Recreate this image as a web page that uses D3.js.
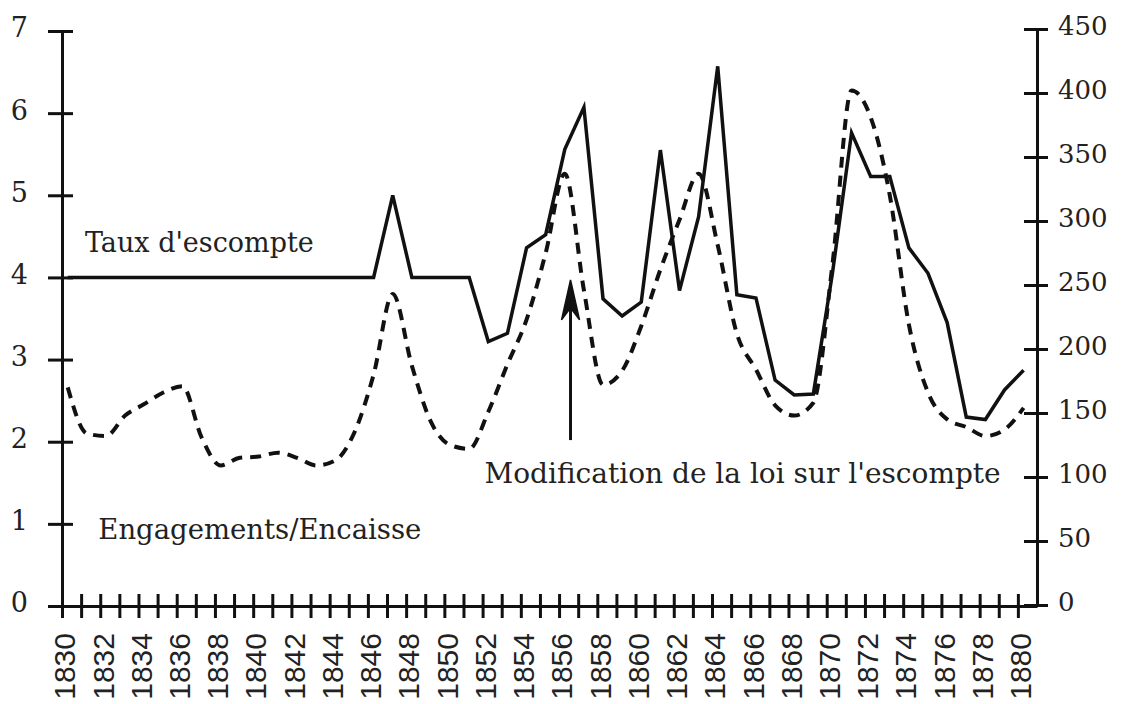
<!DOCTYPE html>
<html>
<head>
<meta charset="utf-8">
<script src="https://cdn.jsdelivr.net/npm/d3@7"></script>
<style>
  body { margin: 0; background: #fff; }
  svg { display: block; }
</style>
</head>
<body>
<div id="chart"></div>
<script>
// années 1830-1880
const years = d3.range(1830, 1881);

// Taux d'escompte (%), échelle de gauche
const tauxEscompte = [
  4, 4, 4, 4, 4, 4, 4, 4, 4, 4,            // 1830-1839
  4, 4, 4, 4, 4, 4, 4, 5.0, 4, 4,          // 1840-1849
  4, 4, 3.22, 3.32, 4.36, 4.52, 5.56, 6.07, 3.74, 3.53, // 1850-1859
  3.70, 5.55, 3.84, 4.74, 6.57, 3.79, 3.75, 2.75, 2.57, 2.58, // 1860-1869
  4.05, 5.76, 5.23, 5.23, 4.36, 4.05, 3.45, 2.30, 2.27, 2.63, // 1870-1879
  2.87                                     // 1880
];

// Engagements / Encaisse, échelle de droite
const engagementsEncaisse = [
  170, 134, 132, 148, 157, 166, 171, 131, 109, 115, // 1830-1839
  116, 119, 115, 109, 113, 135, 180, 243, 187, 143, // 1840-1849
  125, 122, 151, 188, 223, 275, 337, 246, 172, 183, // 1850-1859
  218, 262, 301, 337, 281, 212, 184, 156, 148, 158, // 1860-1869
  266, 402, 381, 320, 219, 166, 145, 139, 132, 137, // 1870-1879
  154                                               // 1880
];

const leftTicks = [0, 1, 2, 3, 4, 5, 6, 7];
const rightTicks = [0, 50, 100, 150, 200, 250, 300, 350, 400, 450];
const yearLabels = d3.range(1830, 1881, 2);

const width = 1123, height = 704;
const ink = "#111";
const serif = "'DejaVu Serif', serif";
const sans = "'Liberation Sans', Arial, sans-serif";

const svg = d3.select("#chart")
  .append("svg")
  .attr("width", width)
  .attr("height", height);

const x = d3.scaleLinear()
  .domain([1830, 1881])
  .range([62, 1037]);

// points placed a bit after the tick of their year, as in the original
const plotOffset = 0.3;

const yLeft = d3.scaleLinear()
  .domain([0, 7])
  .range([606, 31]);

const yRight = d3.scaleLinear()
  .domain([0, 450])
  .range([605, 29]);

// =========================
// AXES
// =========================
const xAxis = svg.append("g")
  .attr("transform", `translate(0,${yLeft(0)})`)
  .call(d3.axisBottom(x)
    .tickValues(years)
    .tickFormat(d => yearLabels.includes(d) ? d : "")
    .tickSizeInner(12)
    .tickSizeOuter(0)
    .tickPadding(0));

xAxis.select(".domain").attr("stroke", ink).attr("stroke-width", 3);
xAxis.selectAll(".tick line")
  .attr("y1", -12)
  .attr("stroke", ink)
  .attr("stroke-width", 3);
xAxis.selectAll(".tick text")
  .attr("transform", "translate(2,27) rotate(-90)")
  .attr("text-anchor", "end")
  .attr("x", 0)
  .attr("y", 0)
  .attr("dy", "0.36em")
  .style("font-family", sans)
  .style("font-size", "30px")
  .style("fill", "#222");

const leftAxis = svg.append("g")
  .attr("transform", `translate(${x(1830)},0)`)
  .call(d3.axisLeft(yLeft)
    .tickValues(leftTicks)
    .tickFormat(d3.format("d"))
    .tickSizeInner(14)
    .tickSizeOuter(0)
    .tickPadding(20));

leftAxis.select(".domain").attr("stroke", ink).attr("stroke-width", 3);
leftAxis.selectAll(".tick line")
  .attr("x1", 11)
  .attr("stroke", ink)
  .attr("stroke-width", 3);
leftAxis.selectAll(".tick text")
  .attr("dy", "0.22em")
  .style("font-family", serif)
  .style("font-size", "27px")
  .style("fill", "#222");

const rightAxis = svg.append("g")
  .attr("transform", `translate(${x(1881)},0)`)
  .call(d3.axisRight(yRight)
    .tickValues(rightTicks)
    .tickSizeInner(11)
    .tickSizeOuter(0)
    .tickPadding(10));

rightAxis.select(".domain").attr("stroke", ink).attr("stroke-width", 3);
rightAxis.selectAll(".tick line")
  .attr("x1", -13)
  .attr("stroke", ink)
  .attr("stroke-width", 3);
rightAxis.selectAll(".tick text")
  .attr("dy", "0.2em")
  .style("font-family", serif)
  .style("font-size", "26px")
  .style("fill", "#222");

// =========================
// LINES
// =========================
const solidLine = d3.line()
  .x((d, i) => x(years[i] + plotOffset))
  .y(d => yLeft(d));

const dashedLine = d3.line()
  .x((d, i) => x(years[i] + plotOffset))
  .y(d => yRight(d))
  .curve(d3.curveMonotoneX);

svg.append("path")
  .datum(engagementsEncaisse)
  .attr("d", dashedLine)
  .attr("fill", "none")
  .attr("stroke", ink)
  .attr("stroke-width", 4)
  .attr("stroke-dasharray", "11,8");

svg.append("path")
  .datum(tauxEscompte)
  .attr("d", solidLine)
  .attr("fill", "none")
  .attr("stroke", ink)
  .attr("stroke-width", 3.5)
  .attr("stroke-linejoin", "miter");

// =========================
// ANNOTATIONS
// =========================
const arrowX = x(1856.6);
const arrowTop = yLeft(3.97);
const arrowBottom = yLeft(2.02);

svg.append("line")
  .attr("x1", arrowX).attr("x2", arrowX)
  .attr("y1", arrowTop + 10).attr("y2", arrowBottom)
  .attr("stroke", ink)
  .attr("stroke-width", 3);

svg.append("path")
  .attr("d", `M${arrowX},${arrowTop} L${arrowX + 9},${arrowTop + 40} L${arrowX},${arrowTop + 28} L${arrowX - 9},${arrowTop + 40} Z`)
  .attr("fill", ink)
  .attr("stroke", ink)
  .attr("stroke-width", 1.5)
  .attr("stroke-linejoin", "miter");

svg.append("text")
  .attr("x", x(1831.2))
  .attr("y", yLeft(4.31))
  .style("font-family", serif)
  .style("font-size", "27px")
  .style("fill", "#222")
  .text("Taux d'escompte");

svg.append("text")
  .attr("x", x(1831.9))
  .attr("y", yLeft(0.82))
  .style("font-family", serif)
  .style("font-size", "27.5px")
  .style("fill", "#222")
  .text("Engagements/Encaisse");

svg.append("text")
  .attr("x", x(1852.1))
  .attr("y", yLeft(1.5))
  .style("font-family", serif)
  .style("font-size", "28px")
  .style("fill", "#222")
  .text("Modification de la loi sur l'escompte");
</script>
</body>
</html>
